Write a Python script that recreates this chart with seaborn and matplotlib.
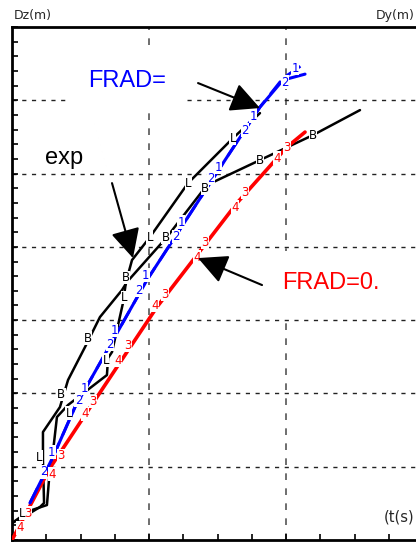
#!/usr/bin/env python3
import matplotlib
matplotlib.use("Agg")
import matplotlib.pyplot as plt
import numpy as np
import pandas as pd
import seaborn as sns

# curves (x: grid unit per dashed column, y: grid unit per dashed row)
blue2_x = [0.131, 0.299, 0.460, 0.985, 1.555, 1.810, 1.978, 2.139]
blue2_y = [0.505, 1.132, 1.814, 3.547, 5.184, 5.907, 6.276, 6.357]
blue1_x = [0.131, 0.299, 0.460, 0.985, 1.555, 1.810, 1.978, 2.139]
blue1_y = [0.505, 1.132, 1.814, 3.547, 5.184, 5.907, 6.303, 6.507]
blue_lab_x = [0.230, 0.290, 0.485, 0.525, 0.712, 0.745, 0.925, 0.975, 1.195, 1.235, 1.450, 1.505, 1.701, 1.759, 1.993, 2.066]
blue_lab_y = [0.930, 1.200, 1.900, 2.070, 2.670, 2.860, 3.411, 3.615, 4.140, 4.338, 4.930, 5.089, 5.593, 5.784, 6.248, 6.439]
blue_lab = ["2", "1"] * 8

red_x = [0.0, 0.277, 0.606, 1.058, 1.642, 2.007, 2.139]
red_y = [0.0, 0.982, 1.910, 3.179, 4.598, 5.362, 5.566]
red_lab_x = [0.058, 0.117, 0.290, 0.360, 0.535, 0.590, 0.774, 0.847, 1.044, 1.117, 1.350, 1.409, 1.628, 1.701, 1.934, 2.007]
red_lab_y = [0.164, 0.368, 0.900, 1.150, 1.720, 1.890, 2.456, 2.660, 3.206, 3.356, 3.861, 4.065, 4.543, 4.748, 5.211, 5.362]
red_lab = ["4", "3"] * 8

exp_b_x = [0.0, 0.073, 0.204, 0.234, 0.226, 0.226, 0.350, 0.409, 0.533, 0.642, 0.803, 0.839, 1.131, 1.423, 1.810, 2.197, 2.540]
exp_b_y = [0.232, 0.300, 0.450, 0.505, 1.091, 1.473, 1.814, 2.183, 2.633, 3.042, 3.411, 3.520, 4.134, 4.843, 5.184, 5.525, 5.866]
exp_b_lab_x = [0.360, 0.555, 0.830, 1.120, 1.410, 1.810, 2.197]
exp_b_lab_y = [1.985, 2.756, 3.580, 4.134, 4.800, 5.184, 5.525]

exp_l_x = [0.0, 0.073, 0.146, 0.255, 0.270, 0.299, 0.328, 0.409, 0.693, 0.701, 0.730, 0.810, 0.832, 0.876, 1.007, 1.285, 1.613, 1.810]
exp_l_y = [0.232, 0.327, 0.409, 0.477, 0.819, 1.201, 1.678, 1.842, 2.251, 2.483, 2.565, 3.233, 3.520, 3.820, 4.134, 4.870, 5.484, 5.825]
exp_l_lab_x = [0.073, 0.200, 0.415, 0.686, 0.820, 1.007, 1.285, 1.613]
exp_l_lab_y = [0.368, 1.132, 1.730, 2.455, 3.310, 4.134, 4.870, 5.484]

sns.set_style("white")
plt.rcParams["font.family"] = ["Liberation Sans", "DejaVu Sans"]

fig = plt.figure(figsize=(4.16, 5.43), dpi=100)
ax = fig.add_axes([12 / 416, 3 / 543, 1 - 12 / 416, 513 / 543])
ax.set_xlim(0, 404 / 137)
ax.set_ylim(0, 7)

for xv in (1, 2):
    ax.axvline(xv, color="#555555", lw=1.2, ls=(0, (4, 5)), zorder=0.5)
for yv in range(1, 7):
    ax.axhline(yv, color="#222222", lw=1.0, ls=(0, (3, 4)), zorder=0.5)

curves = [
    (exp_l_x, exp_l_y, "black", 1.8, "-"),
    (exp_b_x, exp_b_y, "black", 1.8, "-"),
    (red_x, red_y, "#ff0000", 2.6, "-"),
    (blue2_x, blue2_y, "#0000ff", 2.2, "-"),
    (blue1_x, blue1_y, "#0000ff", 2.0, (0, (6, 3))),
]
for xs, ys, col, lw, ls in curves:
    df = pd.DataFrame({"x": xs, "y": ys})
    sns.lineplot(data=df, x="x", y="y", sort=False, estimator=None, color=col,
                 lw=lw, ls=ls, ax=ax, zorder=3)

lab_box = dict(boxstyle="square,pad=0.02", fc="white", ec="none")
lab_kw = dict(ha="center", va="center", fontsize=8.5, family="DejaVu Sans", zorder=4, bbox=lab_box)
for x, y, t in zip(blue_lab_x, blue_lab_y, blue_lab):
    ax.text(x, y, t, color="#0000ff", **lab_kw)
for x, y, t in zip(red_lab_x, red_lab_y, red_lab):
    ax.text(x, y, t, color="#ff0000", **lab_kw)
for x, y in zip(exp_b_lab_x, exp_b_lab_y):
    ax.text(x, y, "B", color="black", **lab_kw)
for x, y in zip(exp_l_lab_x, exp_l_lab_y):
    ax.text(x, y, "L", color="black", **lab_kw)

box = dict(boxstyle="square,pad=0.9", fc="white", ec="none")
ax.text(0.839, 6.262, "FRAD=", color="#0000ff", fontsize=17, ha="center", va="center", bbox=box, zorder=1)
ax.text(0.380, 5.211, "exp", color="black", fontsize=17, ha="center", va="center", zorder=1)
ax.text(2.328, 3.506, "FRAD=0.", color="#ff0000", fontsize=17, ha="center", va="center", bbox=box, zorder=1)

arrow = dict(arrowstyle="-|>,head_length=0.9,head_width=0.45", color="black", lw=1.5,
             mutation_scale=20, shrinkA=0, shrinkB=0)
ax.annotate("", xy=(1.810, 5.894), xytext=(1.358, 6.235), arrowprops=arrow, zorder=5)
ax.annotate("", xy=(0.883, 3.847), xytext=(0.730, 4.870), arrowprops=arrow, zorder=5)
ax.annotate("", xy=(1.358, 3.847), xytext=(1.825, 3.479), arrowprops=arrow, zorder=5)

ax.set_xticks(np.arange(0, 2.95, 0.25))
ax.set_yticks(np.arange(0, 7.01, 0.2))
ax.set_xticklabels([])
ax.set_yticklabels([])
ax.tick_params(direction="in", length=4, width=1.2, colors="black",
               left=True, bottom=True, top=False, right=False)
ax.set_xlabel("")
ax.set_ylabel("")
for side in ("left", "bottom", "top"):
    ax.spines[side].set_linewidth(2)
    ax.spines[side].set_color("black")
ax.spines["right"].set_visible(False)

fig.text(14 / 416, 1 - 16 / 543, "Dz(m)", fontsize=9, family="DejaVu Sans", va="center", ha="left")
fig.text(1 - 1 / 416, 1 - 16 / 543, "Dy(m)", fontsize=9, family="DejaVu Sans", va="center", ha="right")
ax.text(0.997, 0.045, "(t(s)", transform=ax.transAxes, fontsize=10.5, family="DejaVu Sans",
        va="center", ha="right")

fig.savefig("out.png", dpi=100)
